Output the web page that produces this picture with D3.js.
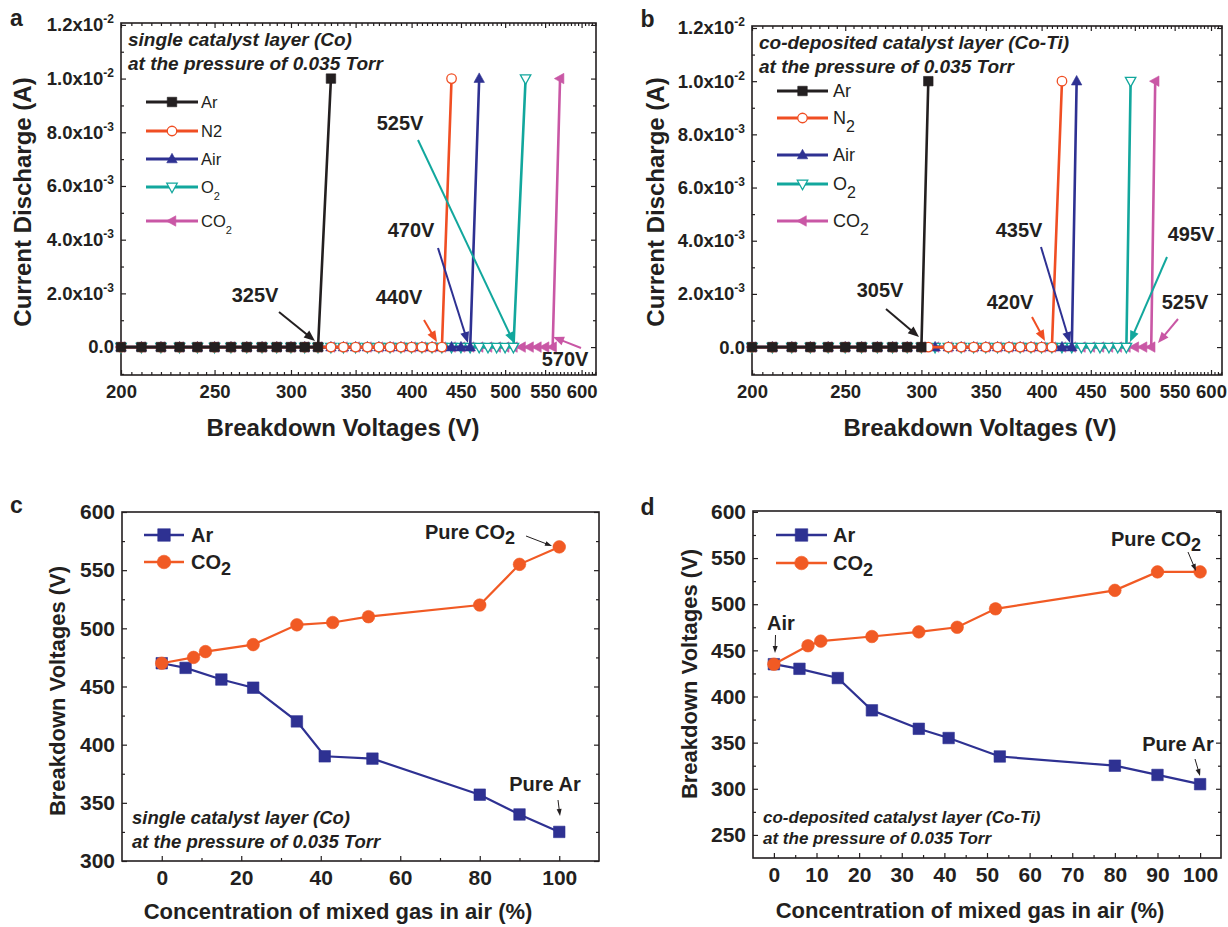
<!DOCTYPE html>
<html>
<head>
<meta charset="utf-8">
<script src="https://cdn.jsdelivr.net/npm/d3@7"></script>
<style>
  body { margin: 0; background: #fff; }
  text { font-family: "Liberation Sans", Arial, sans-serif; fill: #231f20; }
</style>
</head>
<body>
<script>
// ---------- data: panel a (Co), [voltage V, current A] ----------
var aAr = [[200,0],[210,0],[220,0],[230,0],[240,0],[250,0],[260,0],[270,0],[280,0],[290,0],[300,0],[310,0],[320,0],[330,0.01]];
var aN2 = [[200,0],[210,0],[220,0],[230,0],[240,0],[250,0],[260,0],[270,0],[280,0],[290,0],[300,0],[310,0],[320,0],[330,0],[340,0],[350,0],[360,0],[370,0],[380,0],[390,0],[400,0],[410,0],[420,0],[430,0],[440,0.01]];
var aAir = [[200,0],[210,0],[220,0],[230,0],[240,0],[250,0],[260,0],[270,0],[280,0],[290,0],[300,0],[310,0],[320,0],[330,0],[340,0],[350,0],[360,0],[370,0],[380,0],[390,0],[400,0],[410,0],[420,0],[430,0],[440,0],[450,0],[460,0],[470,0.01]];
var aO2 = [[200,0],[210,0],[220,0],[230,0],[240,0],[250,0],[260,0],[270,0],[280,0],[290,0],[300,0],[310,0],[320,0],[330,0],[340,0],[350,0],[360,0],[370,0],[380,0],[390,0],[400,0],[410,0],[420,0],[430,0],[440,0],[450,0],[460,0],[470,0],[480,0],[490,0],[500,0],[510,0],[525,0.01]];
var aCO2 = [[200,0],[210,0],[220,0],[230,0],[240,0],[250,0],[260,0],[270,0],[280,0],[290,0],[300,0],[310,0],[320,0],[330,0],[340,0],[350,0],[360,0],[370,0],[380,0],[390,0],[400,0],[410,0],[420,0],[430,0],[440,0],[450,0],[460,0],[470,0],[480,0],[490,0],[500,0],[510,0],[520,0],[530,0],[540,0],[550,0],[560,0],[570,0.01]];

// ---------- data: panel b (Co-Ti) ----------
var bAr = [[200,0],[210,0],[220,0],[230,0],[240,0],[250,0],[260,0],[270,0],[280,0],[290,0],[300,0],[305,0.01]];
var bN2 = [[200,0],[210,0],[220,0],[230,0],[240,0],[250,0],[260,0],[270,0],[280,0],[290,0],[300,0],[305,0],[320,0],[330,0],[340,0],[350,0],[360,0],[370,0],[380,0],[390,0],[400,0],[410,0],[420,0.01]];
var bAir = [[200,0],[210,0],[220,0],[230,0],[240,0],[250,0],[260,0],[270,0],[280,0],[290,0],[300,0],[310,0],[320,0],[330,0],[340,0],[350,0],[360,0],[370,0],[380,0],[390,0],[400,0],[410,0],[420,0],[430,0],[435,0.01]];
var bO2 = [[200,0],[210,0],[220,0],[230,0],[240,0],[250,0],[260,0],[270,0],[280,0],[290,0],[300,0],[310,0],[320,0],[330,0],[340,0],[350,0],[360,0],[370,0],[380,0],[390,0],[400,0],[410,0],[420,0],[430,0],[440,0],[450,0],[460,0],[470,0],[480,0],[490,0],[495,0.01]];
var bCO2 = [[200,0],[210,0],[220,0],[230,0],[240,0],[250,0],[260,0],[270,0],[280,0],[290,0],[300,0],[310,0],[320,0],[330,0],[340,0],[350,0],[360,0],[370,0],[380,0],[390,0],[400,0],[410,0],[420,0],[430,0],[440,0],[450,0],[460,0],[470,0],[480,0],[490,0],[500,0],[510,0],[520,0],[525,0.01]];

// ---------- data: panels c, d (concentration %, breakdown V) ----------
var cAr  = [[0,470],[6,466],[15,456],[23,449],[34,420],[41,390],[53,388],[80,357],[90,340],[100,325]];
var cCO2 = [[0,470],[8,475],[11,480],[23,486],[34,503],[43,505],[52,510],[80,520],[90,555],[100,570]];
var dAr  = [[0,435],[6,430],[15,420],[23,385],[34,365],[41,355],[53,335],[80,325],[90,315],[100,305]];
var dCO2 = [[0,435],[8,455],[11,460],[23,465],[34,470],[43,475],[52,495],[80,515],[90,535],[100,535]];

// ---------- ticks ----------
var ivXTicks = [200, 250, 300, 350, 400, 450, 500, 550, 600];
var ivYTicks = [0, 0.002, 0.004, 0.006, 0.008, 0.01, 0.012];
var ivYMinor = [-0.001, 0.001, 0.003, 0.005, 0.007, 0.009, 0.011];
var cXTicks = [0, 20, 40, 60, 80, 100];
var cXMinor = [10, 30, 50, 70, 90];
var cYTicks = [300, 350, 400, 450, 500, 550, 600];
var cYMinor = [325, 375, 425, 475, 525, 575];
var dXTicks = [0, 10, 20, 30, 40, 50, 60, 70, 80, 90, 100];
var dXMinor = [5, 15, 25, 35, 45, 55, 65, 75, 85, 95];
var dYTicks = [250, 300, 350, 400, 450, 500, 550, 600];
var dYMinor = [275, 325, 375, 425, 475, 525, 575];

var BLACK = "#231f20", ORANGE = "#f04e23", NAVY = "#2e3192", TEAL = "#12a79d", PINK = "#c957a5";

var svg = d3.select("body").append("svg").attr("width", 1228).attr("height", 927);

// marker shapes
function sym(g, type, cx, cy, s, color, open) {
  var h = s / 2, el;
  if (type == "circle") {
    el = g.append("circle").attr("cx", cx).attr("cy", cy).attr("r", h);
  } else {
    var d;
    if (type == "square") d = "M" + (cx-h) + "," + (cy-h) + "h" + s + "v" + s + "h" + (-s) + "Z";
    if (type == "up") d = "M" + cx + "," + (cy-h*1.2) + "L" + (cx+h*1.1) + "," + (cy+h*0.8) + "L" + (cx-h*1.1) + "," + (cy+h*0.8) + "Z";
    if (type == "down") d = "M" + cx + "," + (cy+h*1.2) + "L" + (cx+h*1.1) + "," + (cy-h*0.8) + "L" + (cx-h*1.1) + "," + (cy-h*0.8) + "Z";
    if (type == "left") d = "M" + (cx-h*1.2) + "," + cy + "L" + (cx+h*0.8) + "," + (cy-h*1.1) + "L" + (cx+h*0.8) + "," + (cy+h*1.1) + "Z";
    el = g.append("path").attr("d", d);
  }
  el.attr("fill", open ? "#fff" : color).attr("stroke", color).attr("stroke-width", open ? 1.3 : 0.6);
}

// arrow with filled head
function arrow(g, x1, y1, x2, y2, color, w, len, wid) {
  var dx = x2 - x1, dy = y2 - y1, L = Math.sqrt(dx*dx + dy*dy), ux = dx / L, uy = dy / L;
  var bx = x2 - ux*len, by = y2 - uy*len;
  g.append("line").attr("x1", x1).attr("y1", y1).attr("x2", bx + ux).attr("y2", by + uy)
    .attr("stroke", color).attr("stroke-width", w);
  g.append("path").attr("fill", color)
    .attr("d", "M" + x2 + "," + y2 + "L" + (bx - uy*wid/2) + "," + (by + ux*wid/2) + "L" + (bx + uy*wid/2) + "," + (by - ux*wid/2) + "Z");
}

// text with optional sub/superscript parts: [["CO"], ["2","sub",size,dy]]
function rich(g, x, y, parts, size, o) {
  o = o || {};
  var t = g.append("text").attr("x", x).attr("y", y).attr("dy", "0.36em")
    .attr("font-size", size).attr("font-weight", o.weight || "bold")
    .attr("text-anchor", o.anchor || "start").attr("fill", o.color || BLACK);
  if (o.italic) t.attr("font-style", "italic");
  if (o.rotate) t.attr("x", 0).attr("y", 0).attr("transform", "translate(" + x + "," + y + ") rotate(-90)");
  parts.forEach(function(p) {
    var s = t.append("tspan").text(p[0]);
    if (p[1]) s.attr("font-size", p[2]).attr("dy", p[3]);
  });
  return t;
}

function styleAxis(ax, size) {
  ax.attr("font-size", null).attr("font-family", null);
  ax.select(".domain").remove();
  ax.selectAll("line").attr("stroke", BLACK).attr("stroke-width", 1.2);
  ax.selectAll("text").attr("font-size", size).attr("font-weight", "bold").attr("fill", BLACK);
}

function axes(g, x, y, c) {
  var l = x.range()[0], r = x.range()[1], b = y.range()[0], t = y.range()[1];
  var fmt = d3.format("d");
  var bx = g.append("g").attr("transform", "translate(0," + b + ")")
    .call(d3.axisBottom(x).tickValues(c.xMajor).tickFormat(fmt).tickSizeInner(-5).tickSizeOuter(0).tickPadding(c.xPad));
  styleAxis(bx, c.size);
  g.append("g").attr("transform", "translate(0," + b + ")")
    .call(d3.axisBottom(x).tickValues(c.xMinor).tickFormat("").tickSizeInner(-3).tickSizeOuter(0)).call(styleAxis, c.size);
  var ly = g.append("g").attr("transform", "translate(" + l + ",0)")
    .call(d3.axisLeft(y).tickValues(c.yMajor).tickFormat(c.yFmt || fmt).tickSizeInner(-5).tickSizeOuter(0).tickPadding(c.yPad));
  styleAxis(ly, c.size);
  g.append("g").attr("transform", "translate(" + l + ",0)")
    .call(d3.axisLeft(y).tickValues(c.yMinor).tickFormat("").tickSizeInner(-3).tickSizeOuter(0)).call(styleAxis, c.size);
  // mirrored ticks on the right
  g.append("g").attr("transform", "translate(" + r + ",0)")
    .call(d3.axisRight(y).tickValues(c.yMajor).tickFormat("").tickSizeInner(-5).tickSizeOuter(0)).call(styleAxis, c.size);
  g.append("g").attr("transform", "translate(" + r + ",0)")
    .call(d3.axisRight(y).tickValues(c.yMinor).tickFormat("").tickSizeInner(-3).tickSizeOuter(0)).call(styleAxis, c.size);
  if (c.top) {
    g.append("g").attr("transform", "translate(0," + t + ")")
      .call(d3.axisTop(x).tickValues(c.xMajor).tickFormat("").tickSizeInner(-5).tickSizeOuter(0)).call(styleAxis, c.size);
    g.append("g").attr("transform", "translate(0," + t + ")")
      .call(d3.axisTop(x).tickValues(c.xMinor).tickFormat("").tickSizeInner(-3).tickSizeOuter(0)).call(styleAxis, c.size);
  }
  g.append("rect").attr("x", l).attr("y", t).attr("width", r - l).attr("height", b - t)
    .attr("fill", "none").attr("stroke", BLACK).attr("stroke-width", 1.6);
  return ly;
}

// ---------- panels a / b ----------
function panelIV(p) {
  var g = svg.append("g");
  var x = d3.scaleLog().domain(p.xDom).range([p.l, p.r]);
  var y = d3.scaleLinear().domain(p.yDom).range([p.b, p.t]);
  var minor = d3.range(205, p.xDom[1], 5).filter(function(v) { return v % 50 != 0; });

  var ly = axes(g, x, y, {xMajor: ivXTicks, xMinor: minor, yMajor: ivYTicks, yMinor: ivYMinor,
    top: true, size: 18.5, xPad: 10, yPad: 7, yFmt: function() { return ""; }});
  ly.selectAll(".tick text").each(function(d) {
    var t = d3.select(this).text(null);
    if (d == 0) { t.text("0.0"); return; }
    var e = Math.floor(Math.log10(d) + 1e-9), m = d / Math.pow(10, e);
    t.append("tspan").text(m.toFixed(1) + "x10");
    t.append("tspan").attr("dy", -8).attr("font-size", 12).text(String(e));
  });

  var line = d3.line().x(function(d) { return x(d[0]); }).y(function(d) { return y(d[1]); });
  p.series.slice().reverse().forEach(function(s) {
    g.append("path").datum(s.data).attr("d", line).attr("fill", "none")
      .attr("stroke", s.color).attr("stroke-width", 2.6);
    s.data.forEach(function(d) { sym(g, s.sym, x(d[0]), y(d[1]), 9.5, s.color, s.open); });
  });

  // legend
  p.series.forEach(function(s, i) {
    var ry = p.leg.rows[i];
    g.append("line").attr("x1", p.leg.x1).attr("x2", p.leg.x2).attr("y1", ry).attr("y2", ry)
      .attr("stroke", s.color).attr("stroke-width", 3.2);
    sym(g, s.sym, (p.leg.x1 + p.leg.x2) / 2, ry, 9.5, s.color, s.open);
    rich(g, p.leg.tx, ry, s.label, p.leg.size, {weight: "normal"});
  });

  p.notes.forEach(function(n) {
    rich(g, n.x, n.y, [[n.text]], 20, {anchor: "middle", color: n.color});
    arrow(g, n.a[0], n.a[1], n.a[2], n.a[3], n.color, 2, 11, 9);
  });

  rich(g, p.l + 7, p.t + 16, [[p.title1]], 19, {italic: true});
  rich(g, p.l + 7, p.t + 40, [[p.title2]], 19, {italic: true});
  rich(g, p.xTitleX, 427, [["Breakdown Voltages (V)"]], 24, {anchor: "middle"});
  rich(g, p.yTitleX, 202, [["Current Discharge (A)"]], 24, {anchor: "middle", rotate: true});
  g.append("text").attr("x", p.letter[0]).attr("y", p.letter[1]).attr("font-size", 23)
    .attr("font-weight", "bold").attr("text-anchor", "middle").text(p.letter[2]);
}

panelIV({
  l: 121, r: 596, t: 23, b: 375, xDom: [200, 621], yDom: [-0.00104, 0.01207],
  series: [
    {data: aAr, color: BLACK, sym: "square", label: [["Ar"]]},
    {data: aN2, color: ORANGE, sym: "circle", open: true, label: [["N2"]]},
    {data: aAir, color: NAVY, sym: "up", label: [["Air"]]},
    {data: aO2, color: TEAL, sym: "down", open: true, label: [["O"], ["2", "sub", 11, 7]]},
    {data: aCO2, color: PINK, sym: "left", label: [["CO"], ["2", "sub", 11, 7]]}
  ],
  leg: {x1: 146, x2: 198, tx: 201, size: 16.5, rows: [102, 131, 159, 187, 221]},
  notes: [
    {text: "325V", x: 255, y: 295, color: BLACK, a: [279, 312, 315, 341]},
    {text: "440V", x: 399, y: 297, color: ORANGE, a: [424, 320, 437, 342]},
    {text: "470V", x: 411, y: 230, color: NAVY, a: [438, 248, 468, 343]},
    {text: "525V", x: 400, y: 123, color: TEAL, a: [418, 140, 514, 343]},
    {text: "570V", x: 565, y: 359, color: PINK, a: [581, 348, 553, 337]}
  ],
  title1: "single catalyst layer (Co)", title2: "at the pressure of 0.035 Torr",
  xTitleX: 343, yTitleX: 22, letter: [16.5, 26, "a"]
});

panelIV({
  l: 752, r: 1222, t: 26, b: 375, xDom: [200, 616], yDom: [-0.00105, 0.012075],
  series: [
    {data: bAr, color: BLACK, sym: "square", label: [["Ar"]]},
    {data: bN2, color: ORANGE, sym: "circle", open: true, label: [["N"], ["2", "sub", 16, 8]]},
    {data: bAir, color: NAVY, sym: "up", label: [["Air"]]},
    {data: bO2, color: TEAL, sym: "down", open: true, label: [["O"], ["2", "sub", 16, 8]]},
    {data: bCO2, color: PINK, sym: "left", label: [["CO"], ["2", "sub", 16, 8]]}
  ],
  leg: {x1: 777, x2: 828, tx: 833, size: 18, rows: [91, 118, 155, 184, 221]},
  notes: [
    {text: "305V", x: 880, y: 290, color: BLACK, a: [886, 309, 919, 337]},
    {text: "420V", x: 1010, y: 302, color: ORANGE, a: [1032, 317, 1045, 341]},
    {text: "435V", x: 1019, y: 230, color: NAVY, a: [1041, 247, 1070, 343]},
    {text: "495V", x: 1191, y: 234, color: TEAL, a: [1167, 257, 1130, 342]},
    {text: "525V", x: 1185, y: 302, color: PINK, a: [1178, 319, 1158, 343]}
  ],
  title1: "co-deposited catalyst layer (Co-Ti)", title2: "at the pressure of 0.035 Torr",
  xTitleX: 980, yTitleX: 655, letter: [647.5, 27, "b"]
});

// ---------- panels c / d ----------
function panelMix(p) {
  var g = svg.append("g");
  var x = d3.scaleLinear().domain(p.xDom).range([p.l, p.r]);
  var y = d3.scaleLinear().domain(p.yDom).range([p.b, p.t]);
  axes(g, x, y, {xMajor: p.xTicks, xMinor: p.xMinor, yMajor: p.yTicks, yMinor: p.yMinor,
    top: false, size: 21, xPad: 9.5, yPad: 7});

  var line = d3.line().x(function(d) { return x(d[0]); }).y(function(d) { return y(d[1]); });
  var series = [
    {data: p.ar, color: NAVY, sym: "square", size: 11.5, label: [["Ar"]]},
    {data: p.co2, color: "#f15a24", sym: "circle", size: 12.6, label: [["CO"], ["2", "sub", 18, 6]]}
  ];
  series.forEach(function(s, i) {
    g.append("path").datum(s.data).attr("d", line).attr("fill", "none")
      .attr("stroke", s.color).attr("stroke-width", 2.2);
    s.data.forEach(function(d) { sym(g, s.sym, x(d[0]), y(d[1]), s.size, s.color, false); });
    var ry = p.leg.rows[i];
    g.append("line").attr("x1", p.leg.x1).attr("x2", p.leg.x2).attr("y1", ry).attr("y2", ry)
      .attr("stroke", s.color).attr("stroke-width", 2.4);
    sym(g, s.sym, (p.leg.x1 + p.leg.x2) / 2, ry, s.size + 1, s.color, false);
    rich(g, p.leg.tx, ry, s.label, 20);
  });

  p.notes.forEach(function(n) {
    rich(g, n.x, n.y, n.parts, 20, {anchor: "middle"});
    arrow(g, n.a[0], n.a[1], n.a[2], n.a[3], BLACK, 1, 7, 5);
  });
  rich(g, p.l + 10, p.tt[0], [[p.title1]], p.tt[2], {italic: true});
  rich(g, p.l + 10, p.tt[1], [[p.title2]], p.tt[2], {italic: true});
  rich(g, p.xTitle[0], p.xTitle[1], [["Concentration of mixed gas in air (%)"]], 22, {anchor: "middle"});
  rich(g, p.yTitle[0], p.yTitle[1], [["Breakdown Voltages (V)"]], 22, {anchor: "middle", rotate: true});
  g.append("text").attr("x", p.letter[0]).attr("y", p.letter[1]).attr("font-size", 23)
    .attr("font-weight", "bold").attr("text-anchor", "middle").text(p.letter[2]);
}

panelMix({
  l: 122, r: 599, t: 512, b: 861, xDom: [-10, 110], yDom: [300, 600],
  xTicks: cXTicks, xMinor: cXMinor, yTicks: cYTicks, yMinor: cYMinor,
  ar: cAr, co2: cCO2,
  leg: {x1: 144, x2: 184, tx: 191, rows: [535, 562]},
  notes: [
    {parts: [["Pure CO"], ["2", "sub", 18, 5]], x: 470, y: 532, a: [526, 536, 552, 546]},
    {parts: [["Pure Ar"]], x: 545, y: 784, a: [558, 800, 560, 816]}
  ],
  tt: [817, 841, 18.5],
  title1: "single catalyst layer (Co)", title2: "at the pressure of 0.035 Torr",
  xTitle: [338, 911], yTitle: [57, 691], letter: [16.5, 513, "c"]
});

panelMix({
  l: 753, r: 1221, t: 511, b: 858, xDom: [-4.9, 104.9], yDom: [225, 601],
  xTicks: dXTicks, xMinor: dXMinor, yTicks: dYTicks, yMinor: dYMinor,
  ar: dAr, co2: dCO2,
  leg: {x1: 776, x2: 827, tx: 833, rows: [535, 563]},
  notes: [
    {parts: [["Pure CO"], ["2", "sub", 18, 5]], x: 1156, y: 539, a: [1188, 552, 1196, 571]},
    {parts: [["Pure Ar"]], x: 1178, y: 744, a: [1195, 759, 1200, 776]},
    {parts: [["Air"]], x: 781, y: 623, a: [775.5, 635, 775, 653]}
  ],
  tt: [817, 838, 17],
  title1: "co-deposited catalyst layer (Co-Ti)", title2: "at the pressure of 0.035 Torr",
  xTitle: [970, 910], yTitle: [689, 674], letter: [647.5, 515, "d"]
});
</script>
</body>
</html>
